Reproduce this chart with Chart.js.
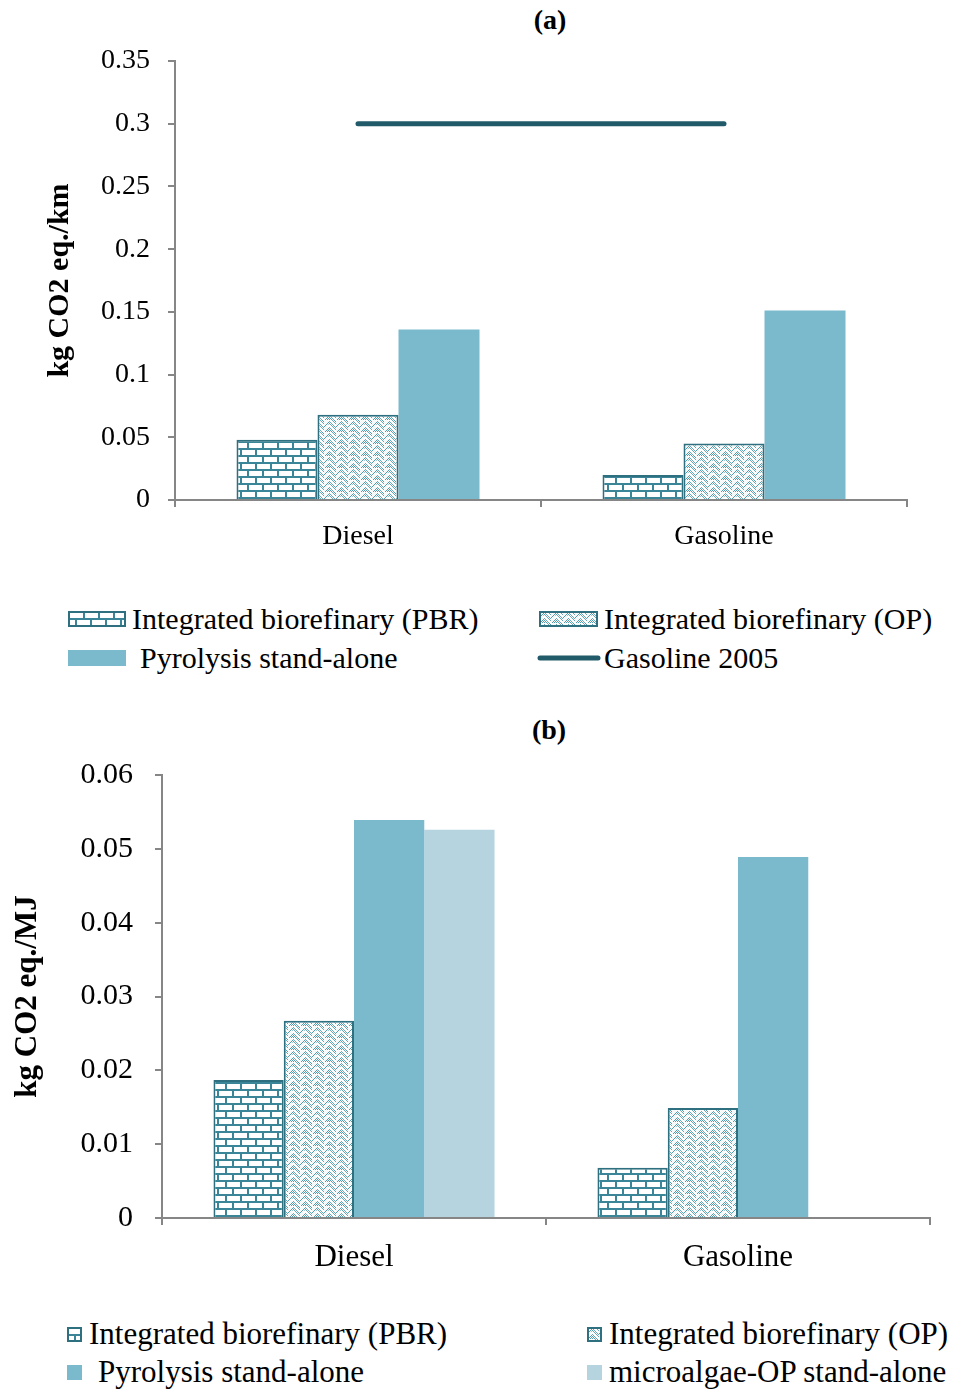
<!DOCTYPE html>
<html>
<head>
<meta charset="utf-8">
<script src="https://cdn.jsdelivr.net/npm/chart.js@4.4.1/dist/chart.umd.min.js"></script>
<style>
  body { margin: 0; background: #fff; font-family: 'Liberation Serif', serif; }
  #wrap { position: relative; width: 956px; height: 1395px; }
  canvas.chart { position: absolute; left: 0; }
  .ttl { position: absolute; font-weight: bold; font-size: 28px; width: 100px; text-align: center; }
  .leg { position: absolute; font-size: 30px; line-height: 30px; white-space: nowrap; display: flex; align-items: center; }
  .legb { font-size: 31px; }
  .leg canvas { display: block; }
</style>
</head>
<body>
<div id="wrap">
  <div class="ttl" style="left:500px; top:4px;">(a)</div>
  <canvas class="chart" id="chartA" width="956" height="580" style="top:0"></canvas>

  <div class="leg" style="left:68px; top:604px;"><canvas id="swA0" width="58" height="16"></canvas><span style="margin-left:6px">Integrated biorefinary (PBR)</span></div>
  <div class="leg" style="left:539px; top:604px;"><canvas id="swA1" width="59" height="16"></canvas><span style="margin-left:6px">Integrated biorefinary (OP)</span></div>
  <div class="leg" style="left:68px; top:643px;"><canvas id="swA2" width="58" height="16"></canvas><span style="margin-left:14px">Pyrolysis stand-alone</span></div>
  <div class="leg" style="left:537px; top:643px;"><canvas id="swA3" width="64" height="8"></canvas><span style="margin-left:3px">Gasoline 2005</span></div>

  <div class="ttl" style="left:499px; top:714px;">(b)</div>
  <canvas class="chart" id="chartB" width="956" height="608" style="top:690px"></canvas>

  <div class="leg legb" style="left:67px; top:1319px;"><canvas id="swB0" width="15" height="15"></canvas><span style="margin-left:7px">Integrated biorefinary (PBR)</span></div>
  <div class="leg legb" style="left:587px; top:1319px;"><canvas id="swB1" width="15" height="15"></canvas><span style="margin-left:7px">Integrated biorefinary (OP)</span></div>
  <div class="leg legb" style="left:67px; top:1357px;"><canvas id="swB2" width="15" height="15"></canvas><span style="margin-left:16px">Pyrolysis stand-alone</span></div>
  <div class="leg legb" style="left:587px; top:1357px;"><canvas id="swB3" width="15" height="15"></canvas><span style="margin-left:7px">microalgae-OP stand-alone</span></div>
</div>
<script>
// data
var categories = ['Diesel', 'Gasoline'];

// (a) kg CO2 eq./km
var pbrKm = [0.048, 0.020];
var opKm = [0.068, 0.045];
var pyroKm = [0.136, 0.151];
var gasoline2005Km = [0.3, 0.3];

// (b) kg CO2 eq./MJ
var pbrMJ = [0.0187, 0.0068];
var opMJ = [0.0267, 0.0149];
var pyroMJ = [0.0539, 0.0489];
var microMJ = [0.0526, null];

var seriesNames = ['Integrated biorefinary (PBR)', 'Integrated biorefinary (OP)',
    'Pyrolysis stand-alone', 'Gasoline 2005', 'microalgae-OP stand-alone'];

var teal = '#2E6F80';
var brickInk = '#3A8597';
var weaveInk = '#4F9CB0';
var pyroColor = '#7BB9CD';
var microColor = '#B6D4DF';
var lineColor = '#215A69';
var axisGray = '#868686';

Chart.defaults.font.family = "'Liberation Serif', serif";
Chart.defaults.color = '#000';

function brickPattern() {
    var c = document.createElement('canvas');
    c.width = 15; c.height = 14;
    var g = c.getContext('2d');
    g.fillStyle = '#fff';
    g.fillRect(0, 0, 15, 14);
    g.fillStyle = brickInk;
    g.fillRect(0, 0, 15, 2);
    g.fillRect(0, 7, 15, 2);
    g.fillRect(0, 0, 2, 7);
    g.fillRect(7, 7, 2, 7);
    return g.createPattern(c, 'repeat');
}

// rough herringbone: speckled teal with white diagonal strips
function weavePattern() {
    var c = document.createElement('canvas');
    c.width = 12; c.height = 12;
    var g = c.getContext('2d');
    g.fillStyle = '#fff';
    g.fillRect(0, 0, 12, 12);
    g.fillStyle = weaveInk;
    for (var y = 0; y < 12; y++) {
        for (var x = 0; x < 12; x++) {
            if ((x + y) % 2 === 0) g.fillRect(x, y, 1, 1);
        }
    }
    g.strokeStyle = '#fff';
    g.lineWidth = 2.2;
    g.beginPath();
    g.moveTo(-1, 5); g.lineTo(5, -1);
    g.moveTo(-1, 11); g.lineTo(5, 5);
    g.moveTo(5, 5); g.lineTo(13, 13);
    g.moveTo(5, -1); g.lineTo(13, 7);
    g.moveTo(-1, -1); g.lineTo(1, 1);
    g.stroke();
    return g.createPattern(c, 'repeat');
}

var brick = brickPattern();
var weave = weavePattern();

function fmt(v) {
    return String(Number(v.toFixed(3)));
}

// chart (a)
new Chart(document.getElementById('chartA'), {
    type: 'bar',
    data: {
        labels: categories,
        datasets: [{
            label: seriesNames[0],
            data: pbrKm,
            backgroundColor: brick,
            borderColor: teal,
            borderWidth: 2,
            order: 2
        }, {
            label: seriesNames[1],
            data: opKm,
            backgroundColor: weave,
            borderColor: teal,
            borderWidth: 2,
            order: 2
        }, {
            label: seriesNames[2],
            data: pyroKm,
            backgroundColor: pyroColor,
            borderWidth: 0,
            order: 2
        }, {
            type: 'line',
            label: seriesNames[3],
            data: gasoline2005Km,
            borderColor: lineColor,
            borderWidth: 5,
            borderCapStyle: 'round',
            pointRadius: 0,
            order: 1
        }]
    },
    options: {
        responsive: false,
        animation: false,
        layout: { padding: { top: 61, right: 49, left: 0, bottom: 0 } },
        plugins: { legend: { display: false }, tooltip: { enabled: false } },
        datasets: { bar: { categoryPercentage: 0.664, barPercentage: 1 } },
        scales: {
            x: {
                grid: { drawOnChartArea: false, tickLength: 7, color: axisGray, lineWidth: 2 },
                border: { color: axisGray, width: 2 },
                ticks: { font: { size: 28 }, padding: 13 },
                afterFit: function (s) { s.height = 80; }
            },
            y: {
                min: 0, max: 0.35,
                ticks: { stepSize: 0.05, font: { size: 28 }, padding: 18, callback: fmt },
                grid: { drawOnChartArea: false, tickLength: 7, color: axisGray, lineWidth: 2 },
                border: { color: axisGray, width: 2 },
                title: { display: true, text: 'kg CO2 eq./km', font: { size: 30, weight: 'bold' }, padding: { top: 42, bottom: 0 } },
                afterFit: function (s) { s.width = 175; }
            }
        }
    }
});

// chart (b)
new Chart(document.getElementById('chartB'), {
    type: 'bar',
    data: {
        labels: categories,
        datasets: [{
            label: seriesNames[0],
            data: pbrMJ,
            backgroundColor: brick,
            borderColor: teal,
            borderWidth: 2
        }, {
            label: seriesNames[1],
            data: opMJ,
            backgroundColor: weave,
            borderColor: teal,
            borderWidth: 2
        }, {
            label: seriesNames[2],
            data: pyroMJ,
            backgroundColor: pyroColor,
            borderWidth: 0
        }, {
            label: seriesNames[4],
            data: microMJ,
            backgroundColor: microColor,
            borderWidth: 0
        }]
    },
    options: {
        responsive: false,
        animation: false,
        layout: { padding: { top: 85, right: 26, left: 0, bottom: 0 } },
        plugins: { legend: { display: false }, tooltip: { enabled: false } },
        datasets: { bar: { categoryPercentage: 0.732, barPercentage: 1 } },
        scales: {
            x: {
                grid: { drawOnChartArea: false, tickLength: 7, color: axisGray, lineWidth: 2 },
                border: { color: axisGray, width: 2 },
                ticks: { font: { size: 31 }, padding: 14 },
                afterFit: function (s) { s.height = 80; }
            },
            y: {
                min: 0, max: 0.06,
                ticks: { stepSize: 0.01, font: { size: 30 }, padding: 22, callback: fmt },
                grid: { drawOnChartArea: false, tickLength: 7, color: axisGray, lineWidth: 2 },
                border: { color: axisGray, width: 2 },
                title: { display: true, text: 'kg CO2 eq./MJ', font: { size: 31, weight: 'bold' }, padding: { top: 9, bottom: 0 } },
                afterFit: function (s) { s.width = 162; }
            }
        }
    }
});

// legend swatches
function swatch(id, fill, border) {
    var c = document.getElementById(id);
    var g = c.getContext('2d');
    g.fillStyle = fill;
    g.fillRect(0, 0, c.width, c.height);
    if (border) {
        g.strokeStyle = border;
        g.lineWidth = 2;
        g.strokeRect(1, 1, c.width - 2, c.height - 2);
    }
}
swatch('swA0', brick, teal);
swatch('swA1', weave, teal);
swatch('swA2', pyroColor);
(function () {
    var g = document.getElementById('swA3').getContext('2d');
    g.strokeStyle = lineColor;
    g.lineWidth = 5;
    g.lineCap = 'round';
    g.beginPath();
    g.moveTo(3, 4); g.lineTo(61, 4);
    g.stroke();
})();
swatch('swB0', brick, teal);
swatch('swB1', weave, teal);
swatch('swB2', pyroColor);
swatch('swB3', microColor);
</script>
</body>
</html>
